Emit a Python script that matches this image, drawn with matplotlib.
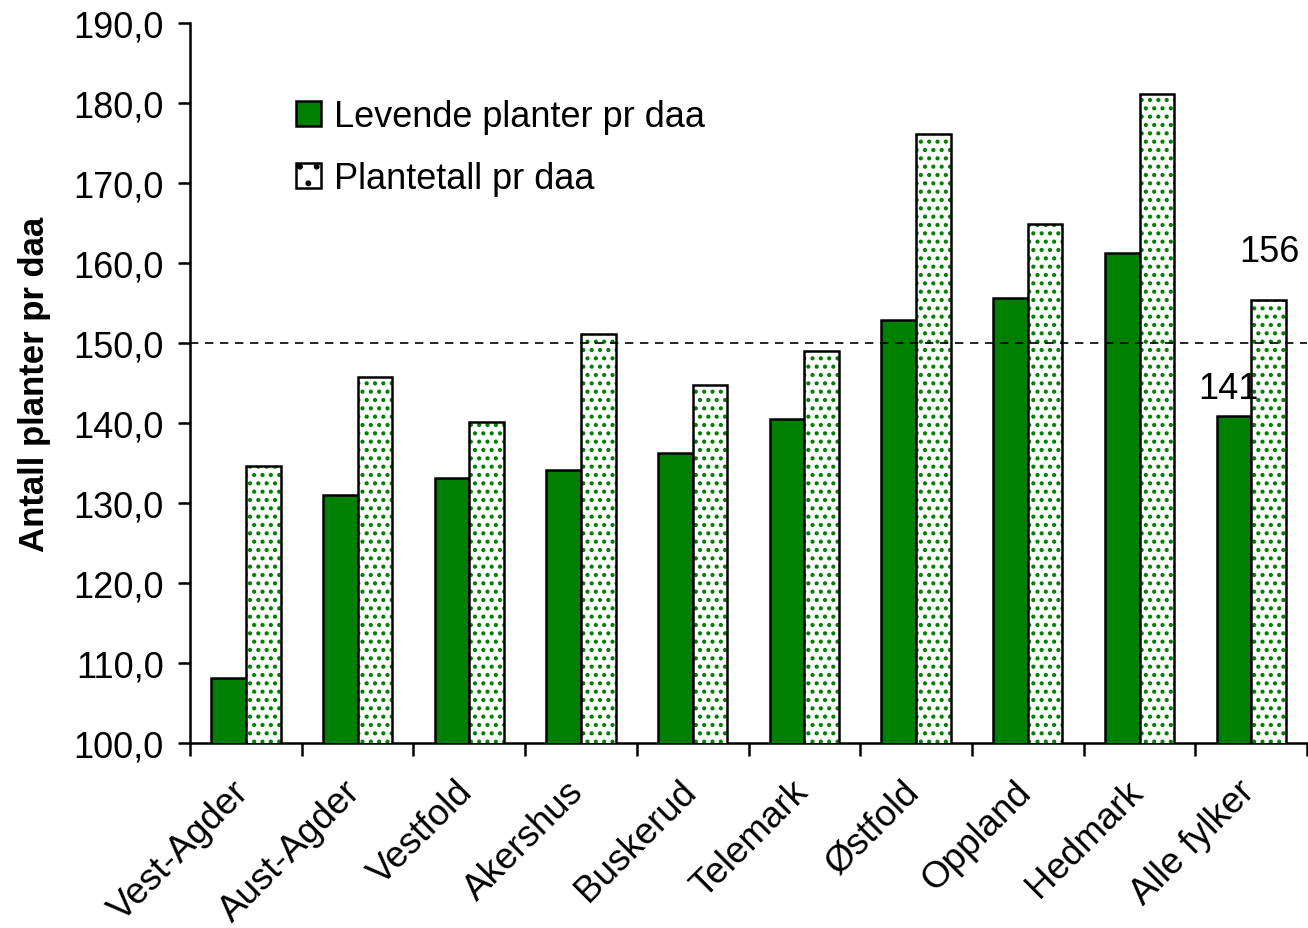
import matplotlib
matplotlib.use('Agg')
import matplotlib.pyplot as plt
from matplotlib.patches import Patch
import numpy as np

plt.rcParams['font.family'] = ['Liberation Sans', 'DejaVu Sans']
plt.rcParams['hatch.linewidth'] = 1.8

# data
fylker = ['Vest-Agder', 'Aust-Agder', 'Vestfold', 'Akershus', 'Buskerud',
          'Telemark', 'Østfold', 'Oppland', 'Hedmark', 'Alle fylker']
levende = [108.1, 131.0, 133.1, 134.2, 136.3, 140.5, 152.9, 155.6, 161.3, 140.9]
plantetall = [134.6, 145.8, 140.1, 151.1, 144.8, 149.0, 176.1, 164.9, 181.1, 155.4]
ref_line = 150.0
annot_text = ['141', '156']
annot_xy = [(8.8, 144.3), (9.16, 161.4)]

fig = plt.figure(figsize=(13.08, 9.29), dpi=100)
ax = fig.add_axes([0.1453, 0.199, 0.854, 0.775])

x = np.arange(len(fylker))
w = 0.31
# solid bars
ax.bar(x - w / 2, levende, w, color='#008000', edgecolor='black',
       linewidth=1.8, zorder=3)
# dotted bars: green hatch first, black outline on top
ax.bar(x + w / 2, plantetall, w, color='white', edgecolor='#008000',
       hatch='..', linewidth=0, zorder=3)
ax.bar(x + w / 2, plantetall, w, color='none', edgecolor='black',
       linewidth=1.8, zorder=4)

ax.axhline(ref_line, color='black', linestyle=(0, (5, 4)), linewidth=1.2, zorder=5)

for t, (tx, ty) in zip(annot_text, annot_xy):
    ax.text(tx, ty, t, fontsize=26, ha='center', va='center')

ax.set_ylim(100, 190)
ax.set_xlim(-0.5, len(fylker) - 0.5)
yt = np.arange(100, 191, 10)
ax.set_yticks(yt)
ax.set_yticklabels([f'{v:.1f}'.replace('.', ',') for v in yt])
# label ticks are invisible, nudged left so the rotated names sit like the original
ax.set_xticks(x - 0.13)
ax.set_xticklabels(fylker, rotation=45, ha='right', rotation_mode='anchor')
ax.set_xticks(np.arange(-0.5, len(fylker)), minor=True)
ax.tick_params(axis='x', which='major', length=0, pad=22, labelsize=26.5)
ax.tick_params(axis='x', which='minor', length=9, width=1.8, direction='out')
ax.tick_params(axis='y', length=9, width=1.8, direction='out', labelsize=26, pad=10)

for s in ['top', 'right']:
    ax.spines[s].set_visible(False)
for s in ['left', 'bottom']:
    ax.spines[s].set_linewidth(1.8)

ax.set_ylabel('Antall planter pr daa', fontsize=25, fontweight='bold', labelpad=16)

# legend with custom hatch handle
plt.rcParams['hatch.color'] = '#008000'
handles = [Patch(facecolor='#008000', edgecolor='black', linewidth=1.8),
           Patch(facecolor='white', edgecolor='black', hatch='.', linewidth=1.8)]
ax.legend(handles, ['Levende planter pr daa', 'Plantetall pr daa'],
          loc='upper left', bbox_to_anchor=(0.072, 0.93), frameon=False,
          fontsize=26, handlelength=0.7, handleheight=0.7,
          handletextpad=0.35, labelspacing=0.75, borderpad=0.2)

fig.savefig('out.png', dpi=100)
